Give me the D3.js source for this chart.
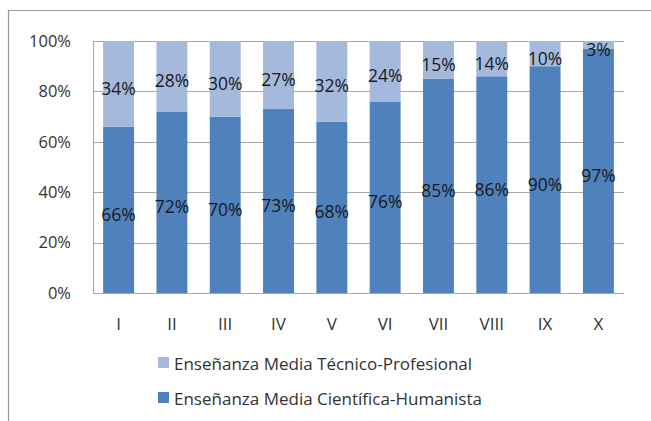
<!DOCTYPE html>
<html><head><meta charset="utf-8">
<script src="https://cdn.jsdelivr.net/npm/d3@7"></script>
<style>body{margin:0;background:#fff}svg{display:block}</style>
</head><body><svg id="c" width="651" height="421"></svg>
<script>
const categories = ["I","II","III","IV","V","VI","VII","VIII","IX","X"];
const tecnico = [34,28,30,27,32,24,15,14,10,3];
const cientifico = [66,72,70,73,68,76,85,86,90,97];
const yTicks = [0,20,40,60,80,100];
const seriesNames = ["Enseñanza Media Técnico-Profesional","Enseñanza Media Científica-Humanista"];
const colors = {light:"#a4b9dc", dark:"#4f81bd"};
const font = "'Open Sans', sans-serif";

const svg = d3.select("#c");
// frame
svg.append("path").attr("d","M8.5,421 V10.5 H651").attr("fill","none").attr("stroke","#9a9a9a").attr("stroke-width",1.2);

const x = d3.scaleBand().domain(categories).range([93,624]).paddingInner(0.42).paddingOuter(0.19);
const y = d3.scaleLinear().domain([0,100]).range([293,41]);

// gridlines
svg.append("g").selectAll("line").data(yTicks).join("line")
  .attr("x1",93).attr("x2",624).attr("y1",d=>Math.round(y(d))+0.5).attr("y2",d=>Math.round(y(d))+0.5)
  .attr("stroke","#a8a8a8").attr("stroke-width",1);
svg.append("line").attr("x1",93.5).attr("x2",93.5).attr("y1",y(100)).attr("y2",y(0)+0.5).attr("stroke","#a8a8a8");

const yAxis = svg.append("g").attr("transform","translate(93,0)")
  .call(d3.axisLeft(y).tickValues(yTicks).tickSize(0).tickPadding(22).tickFormat(d=>d+"%"));
yAxis.select(".domain").remove();
yAxis.selectAll("text").attr("font-family",font).attr("font-size",16.5).attr("fill","#333");

const xAxis = svg.append("g").attr("transform","translate(0,293)")
  .call(d3.axisBottom(x).tickSize(0).tickPadding(25));
xAxis.select(".domain").remove();
xAxis.selectAll("text").attr("font-family",font).attr("font-size",17).attr("fill","#333");

const data = categories.map((c,i)=>({c, a:cientifico[i], b:tecnico[i]}));
const g = svg.append("g");
g.selectAll("rect.d").data(data).join("rect").attr("class","d")
  .attr("x",d=>x(d.c)).attr("width",x.bandwidth())
  .attr("y",d=>y(d.a)).attr("height",d=>y(0)-y(d.a)).attr("fill",colors.dark);
g.selectAll("rect.l").data(data).join("rect").attr("class","l")
  .attr("x",d=>x(d.c)).attr("width",x.bandwidth())
  .attr("y",d=>y(100)).attr("height",d=>y(d.a)-y(100)).attr("fill",colors.light);

g.selectAll("text.d").data(data).join("text")
  .attr("x",d=>x(d.c)+x.bandwidth()/2).attr("y",d=>(y(0)+y(d.a))/2+4)
  .attr("text-anchor","middle").attr("dominant-baseline","central")
  .attr("font-family",font).attr("font-size",17.5).attr("fill","#1a1a1a").text(d=>d.a+"%");
g.selectAll("text.l").data(data).join("text")
  .attr("x",d=>x(d.c)+x.bandwidth()/2).attr("y",d=>(y(100)+y(d.a))/2+4)
  .attr("text-anchor","middle").attr("dominant-baseline","central")
  .attr("font-family",font).attr("font-size",17.5).attr("fill","#1a1a1a").text(d=>d.b+"%");

// legend
const leg = svg.append("g");
const items = [{n:seriesNames[0],c:colors.light,y:363},{n:seriesNames[1],c:colors.dark,y:398}];
items.forEach(it=>{
  leg.append("rect").attr("x",158).attr("y",it.y-6).attr("width",11).attr("height",11).attr("fill",it.c);
  leg.append("text").attr("x",174).attr("y",it.y).attr("dominant-baseline","central")
    .attr("font-family",font).attr("font-size",17).attr("fill","#333").text(it.n);
});
</script></body></html>
